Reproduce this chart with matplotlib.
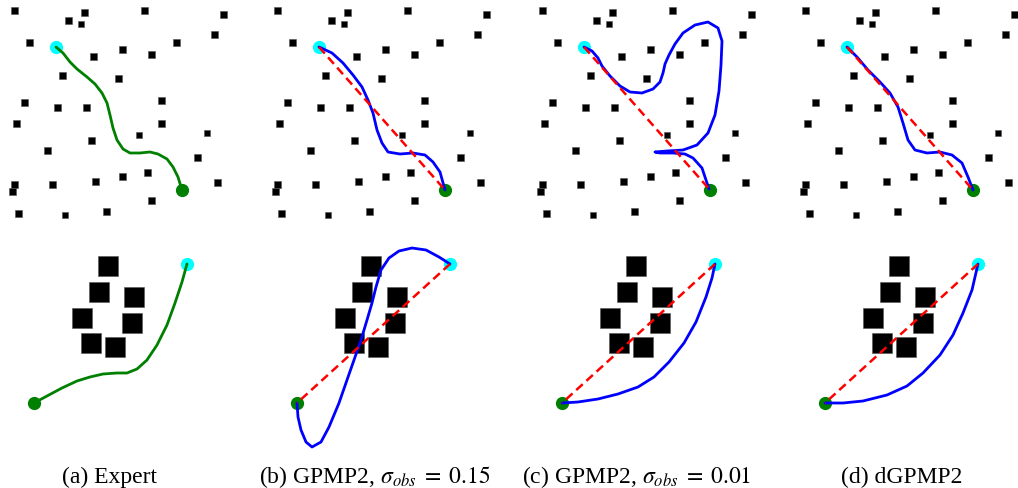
import matplotlib
matplotlib.use("Agg")
import matplotlib.pyplot as plt
from matplotlib.patches import Rectangle

plt.rcParams['mathtext.fontset'] = 'stix'

# ---- data (panel-local pixel units, y grows downward) ----
# top environment: many small obstacles
top_obs_x = [14, 84, 144, 223, 68, 81, 214, 29, 176, 93, 122, 151, 62, 118,
             24, 57, 86, 161, 16, 161, 139, 207, 91, 47, 197, 14, 12, 52,
             95, 122, 147, 217, 151, 18, 65, 106]
top_obs_y = [10, 12, 10, 14, 20, 24, 34, 42, 42, 56, 49, 54, 75, 78,
             102, 107, 107, 100, 123, 123, 135, 133, 140, 150, 157, 184, 191, 184,
             181, 176, 172, 182, 200, 213, 215, 211]
top_obs_size = [7, 7, 7, 7, 7, 6, 7, 7, 7, 7, 7, 7, 7, 7,
                7, 7, 7, 7, 7, 7, 6, 6, 7, 7, 7, 7, 7, 7,
                7, 7, 7, 7, 7, 7, 6, 7]
top_start = (56, 47)
top_goal = (182, 190)

# bottom environment: cluster of big obstacles
bot_obs_x = [108, 99, 134, 82, 132, 91, 115]
bot_obs_y = [26, 52, 57, 78, 83, 103, 107]
bot_obs_size = 20
bot_start = (187, 24)
bot_goal = (34, 163)

# top row trajectories
top_expert_x = [56, 63, 70, 77, 87, 95, 102, 107, 110, 113, 117, 123, 130, 140, 150, 158, 167, 173, 178, 182]
top_expert_y = [47, 53, 62, 69, 77, 84, 93, 103, 115, 128, 140, 149, 153, 153, 152, 154, 159, 167, 177, 190]

top_gpmp_015_x = [56, 69, 80, 90, 99, 105, 110, 114, 119, 125, 137, 150, 162, 170, 177, 182]
top_gpmp_015_y = [47, 53, 63, 75, 87, 100, 113, 130, 143, 152, 154, 153, 155, 162, 172, 190]

top_gpmp_001_x = [56, 64, 70, 74, 82, 92, 102, 114, 125, 132, 135, 137, 141, 147, 155, 167, 180, 190, 194,
                  193, 191, 187, 180, 169, 155, 139, 127, 132, 145, 157, 165, 174, 181]
top_gpmp_001_y = [47, 51, 58, 66, 76, 86, 92, 93, 89, 82, 73, 64, 55, 44, 33, 25, 22, 28, 41,
                  65, 91, 115, 133, 145, 150, 151, 152, 153, 153, 154, 158, 168, 189]

top_dgpmp_x = [56, 66, 77, 89, 99, 107, 112, 117, 124, 136, 149, 161, 171, 177, 182]
top_dgpmp_y = [47, 57, 70, 82, 93, 107, 123, 140, 150, 153, 152, 155, 163, 177, 190]

# bottom row trajectories
bot_expert_x = [34, 47, 62, 77, 90, 103, 117, 127, 137, 147, 157, 167, 175, 182, 187]
bot_expert_y = [163, 156, 148, 141, 137, 134, 133, 133, 129, 120, 105, 85, 63, 42, 24]

bot_gpmp_015_x = [187, 176, 163, 149, 136, 126, 118, 113, 109, 104, 98, 91, 84, 76, 66, 58, 49, 43, 38, 35, 34]
bot_gpmp_015_y = [24, 17, 10, 8, 11, 18, 30, 47, 63, 80, 100, 120, 140, 163, 187, 202, 207, 202, 190, 177, 163]

bot_gpmp_001_x = [34, 50, 70, 90, 110, 126, 141, 156, 168, 178, 184, 187]
bot_gpmp_001_y = [163, 162, 159, 154, 147, 137, 122, 103, 82, 57, 38, 24]

bot_dgpmp_x = [34, 52, 72, 96, 116, 132, 149, 162, 172, 181, 187]
bot_dgpmp_y = [163, 163, 161, 155, 146, 133, 115, 95, 73, 50, 24]

captions = ["(a) Expert",
            r"(b) GPMP2, $\sigma_{obs}\;=\;0.15$",
            r"(c) GPMP2, $\sigma_{obs}\;=\;0.01$",
            "(d) dGPMP2"]

# ---- layout ----
W, H = 1018, 488
col_left = [0, 263, 528, 791]
caption_x = [110, 375, 637, 902]

fig = plt.figure(figsize=(W / 100, H / 100), dpi=100)


def make_axes(left, top, w, h):
    ax = fig.add_axes([left / W, 1 - (top + h) / H, w / W, h / H])
    ax.set_xlim(0, w)
    ax.set_ylim(h, 0)
    ax.axis('off')
    return ax


def draw_env(ax, xs, ys, sizes, start, goal):
    if not isinstance(sizes, list):
        sizes = [sizes] * len(xs)
    for x, y, s in zip(xs, ys, sizes):
        ax.add_patch(Rectangle((x - s / 2, y - s / 2), s, s, facecolor='black',
                               edgecolor='#555555', linewidth=0.4, zorder=1))
    ax.plot(*start, 'o', color='cyan', markersize=8.5, zorder=2)
    ax.plot(*goal, 'o', color='green', markersize=8.5, zorder=2)


def draw_paths(ax, px, py, start, goal, color, with_init):
    ax.plot(px, py, color=color, linewidth=2.0, zorder=3, clip_on=False,
            solid_joinstyle='round', solid_capstyle='round')
    if with_init:
        ax.plot([start[0], goal[0]], [start[1], goal[1]], color='red',
                linewidth=1.8, dashes=(3.5, 2), zorder=4)


top_paths = [(top_expert_x, top_expert_y), (top_gpmp_015_x, top_gpmp_015_y),
             (top_gpmp_001_x, top_gpmp_001_y), (top_dgpmp_x, top_dgpmp_y)]
bot_paths = [(bot_expert_x, bot_expert_y), (bot_gpmp_015_x, bot_gpmp_015_y),
             (bot_gpmp_001_x, bot_gpmp_001_y), (bot_dgpmp_x, bot_dgpmp_y)]

for i in range(4):
    color = 'green' if i == 0 else 'blue'

    # top row
    ax = make_axes(col_left[i], 0, 240, 230)
    draw_env(ax, top_obs_x, top_obs_y, top_obs_size, top_start, top_goal)
    draw_paths(ax, *top_paths[i], top_start, top_goal, color, i > 0)

    # bottom row
    ax = make_axes(col_left[i], 240, 240, 212)
    draw_env(ax, bot_obs_x, bot_obs_y, bot_obs_size, bot_start, bot_goal)
    draw_paths(ax, *bot_paths[i], bot_start, bot_goal, color, i > 0)

    fig.text(caption_x[i] / W, 1 - 477 / H, captions[i], ha='center', va='center',
             fontsize=17, family='Liberation Serif')

fig.savefig('out.png', dpi=100)
